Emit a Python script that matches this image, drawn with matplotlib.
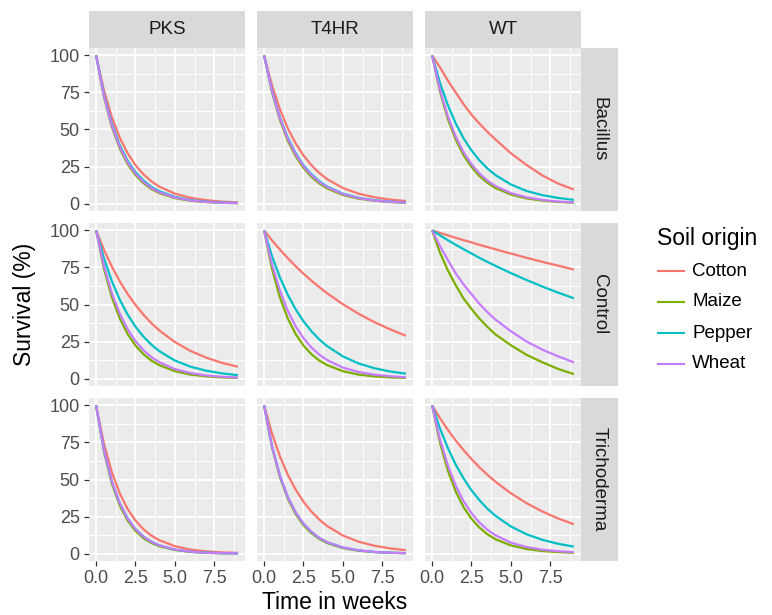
import matplotlib
matplotlib.use("Agg")
import matplotlib.pyplot as plt
from matplotlib.lines import Line2D

plt.rcParams['font.family'] = ['Liberation Sans', 'DejaVu Sans']

weeks = [0, 0.5, 1, 1.5, 2, 2.5, 3, 3.5, 4, 5, 6, 7, 8, 9]

soils = ["Cotton", "Maize", "Pepper", "Wheat"]
soil_colors = ["#F8766D", "#7CAE00", "#00BFC4", "#C77CFF"]
strains = ["PKS", "T4HR", "WT"]
treatments = ["Bacillus", "Control", "Trichoderma"]

# survival (%) per panel, rows in soil order: Cotton, Maize, Pepper, Wheat
bacillus_pks = [
    [100, 76.3, 58.3, 44.5, 34.0, 25.9, 19.8, 15.1, 11.5, 6.7, 3.9, 2.3, 1.3, 0.8],
    [100, 71.9, 51.7, 37.2, 26.7, 19.2, 13.8, 9.9, 7.1, 3.7, 1.9, 1.0, 0.5, 0.3],
    [100, 73.3, 53.8, 39.5, 28.9, 21.2, 15.6, 11.4, 8.4, 4.5, 2.4, 1.3, 0.7, 0.4],
    [100, 72.6, 52.7, 38.3, 27.8, 20.2, 14.7, 10.6, 7.7, 4.1, 2.2, 1.1, 0.6, 0.3],
]
bacillus_t4hr = [
    [100, 79.9, 63.8, 50.9, 40.7, 32.5, 25.9, 20.7, 16.5, 10.5, 6.7, 4.3, 2.7, 1.7],
    [100, 75.2, 56.6, 42.5, 32.0, 24.1, 18.1, 13.6, 10.2, 5.8, 3.3, 1.9, 1.0, 0.6],
    [100, 76.3, 58.3, 44.5, 34.0, 25.9, 19.8, 15.1, 11.5, 6.7, 3.9, 2.3, 1.3, 0.8],
    [100, 76.0, 57.7, 43.8, 33.3, 25.3, 19.2, 14.6, 11.1, 6.4, 3.7, 2.1, 1.2, 0.7],
]
bacillus_wt = [
    [100, 92.0, 83.0, 75.0, 67.0, 60.0, 54.0, 48.5, 43.5, 34.0, 26.0, 19.0, 13.5, 9.5],
    [100, 75.6, 57.1, 43.2, 32.6, 24.7, 18.6, 14.1, 10.6, 6.1, 3.5, 2.0, 1.1, 0.6],
    [100, 81.5, 66.4, 54.1, 44.0, 35.9, 29.2, 23.8, 19.4, 12.9, 8.5, 5.7, 3.8, 2.5],
    [100, 76.7, 58.9, 45.2, 34.6, 26.6, 20.4, 15.6, 12.0, 7.1, 4.2, 2.5, 1.4, 0.8],
]
control_pks = [
    [100, 86.9, 75.6, 65.7, 57.1, 49.7, 43.2, 37.5, 32.6, 24.7, 18.6, 14.1, 10.6, 8.0],
    [100, 74.1, 54.9, 40.7, 30.1, 22.3, 16.5, 12.2, 9.1, 5.0, 2.7, 1.5, 0.8, 0.5],
    [100, 81.1, 65.7, 53.3, 43.2, 35.0, 28.4, 23.0, 18.6, 12.2, 8.0, 5.3, 3.5, 2.3],
    [100, 76.0, 57.7, 43.8, 33.3, 25.3, 19.2, 14.6, 11.1, 6.4, 3.7, 2.1, 1.2, 0.7],
]
control_t4hr = [
    [100, 93.3, 87.1, 81.3, 75.9, 70.8, 66.1, 61.7, 57.6, 50.2, 43.7, 38.1, 33.2, 28.9],
    [100, 74.1, 54.9, 40.7, 30.1, 22.3, 16.5, 12.2, 9.1, 5.0, 2.7, 1.5, 0.8, 0.5],
    [100, 82.7, 68.4, 56.6, 46.8, 38.7, 32.0, 26.4, 21.9, 15.0, 10.2, 7.0, 4.8, 3.3],
    [100, 77.1, 59.5, 45.8, 35.3, 27.3, 21.0, 16.2, 12.5, 7.4, 4.4, 2.6, 1.6, 0.9],
]
control_wt = [
    [100, 98.3, 96.7, 95.0, 93.4, 91.9, 90.3, 88.8, 87.3, 84.4, 81.5, 78.8, 76.2, 73.6],
    [100, 85.0, 73.0, 63.0, 54.0, 47.0, 40.5, 35.0, 30.0, 22.5, 16.0, 11.0, 6.5, 3.0],
    [100, 96.7, 93.4, 90.3, 87.3, 84.4, 81.5, 78.8, 76.2, 71.2, 66.5, 62.1, 58.0, 54.2],
    [100, 89.5, 80.0, 71.0, 63.5, 57.0, 50.5, 45.0, 40.0, 32.0, 25.0, 19.5, 15.0, 11.0],
]
trichoderma_pks = [
    [100, 74.1, 54.9, 40.7, 30.1, 22.3, 16.5, 12.2, 9.1, 5.0, 2.7, 1.5, 0.8, 0.5],
    [100, 68.7, 47.2, 32.5, 22.3, 15.3, 10.5, 7.2, 5.0, 2.4, 1.1, 0.5, 0.2, 0.1],
    [100, 69.8, 48.7, 34.0, 23.7, 16.5, 11.5, 8.0, 5.6, 2.7, 1.3, 0.6, 0.3, 0.2],
    [100, 69.8, 48.7, 34.0, 23.7, 16.5, 11.5, 8.0, 5.6, 2.7, 1.3, 0.6, 0.3, 0.2],
]
trichoderma_t4hr = [
    [100, 81.1, 65.7, 53.3, 43.2, 35.0, 28.4, 23.0, 18.6, 12.2, 8.0, 5.3, 3.5, 2.3],
    [100, 71.9, 51.7, 37.2, 26.7, 19.2, 13.8, 9.9, 7.1, 3.7, 1.9, 1.0, 0.5, 0.3],
    [100, 72.6, 52.7, 38.3, 27.8, 20.2, 14.7, 10.6, 7.7, 4.1, 2.2, 1.1, 0.6, 0.3],
    [100, 72.6, 52.7, 38.3, 27.8, 20.2, 14.7, 10.6, 7.7, 4.1, 2.2, 1.1, 0.6, 0.3],
]
trichoderma_wt = [
    [100, 91.4, 83.5, 76.3, 69.8, 63.8, 58.3, 53.3, 48.7, 40.7, 34.0, 28.4, 23.7, 19.8],
    [100, 74.8, 56.0, 41.9, 31.3, 23.5, 17.6, 13.1, 9.8, 5.5, 3.1, 1.7, 1.0, 0.5],
    [100, 84.4, 71.2, 60.0, 50.7, 42.7, 36.1, 30.4, 25.7, 18.3, 13.0, 9.3, 6.6, 4.7],
    [100, 77.1, 59.5, 45.8, 35.3, 27.3, 21.0, 16.2, 12.5, 7.4, 4.4, 2.6, 1.6, 0.9],
]

panels = [
    [bacillus_pks, bacillus_t4hr, bacillus_wt],
    [control_pks, control_t4hr, control_wt],
    [trichoderma_pks, trichoderma_t4hr, trichoderma_wt],
]

W, H = 772, 615
fig = plt.figure(figsize=(W / 100, H / 100), dpi=100)

col_left = [89, 257, 425]
row_top = [48, 223, 398]
pw, ph = 156, 163
strip = 37

grey_bg = "#EBEBEB"
strip_bg = "#D9D9D9"


def fig_rect(x, y, w, h):
    return [x / W, 1 - (y + h) / H, w / W, h / H]


for r in range(3):
    for c in range(3):
        ax = fig.add_axes(fig_rect(col_left[c], row_top[r], pw, ph))
        ax.set_facecolor(grey_bg)
        for s in ax.spines.values():
            s.set_visible(False)
        ax.set_xlim(-0.45, 9.45)
        ax.set_ylim(-5, 105)
        ax.set_xticks([0, 2.5, 5, 7.5])
        ax.set_yticks([0, 25, 50, 75, 100])
        ax.set_xticks([1.25, 3.75, 6.25, 8.75], minor=True)
        ax.set_yticks([12.5, 37.5, 62.5, 87.5], minor=True)
        ax.grid(which="major", color="white", lw=1.3)
        ax.grid(which="minor", color="white", lw=0.65)
        ax.set_axisbelow(True)
        ax.tick_params(which="minor", length=0)
        ax.tick_params(which="major", length=3.6, width=0.9, color="#333333",
                       labelsize=13, labelcolor="#4D4D4D", pad=3)
        if c != 0:
            ax.tick_params(axis="y", length=0, labelleft=False)
        if r != 2:
            ax.tick_params(axis="x", length=0, labelbottom=False)
        ax.set_xticklabels(["0.0", "2.5", "5.0", "7.5"])
        for vals, col in zip(panels[r][c], soil_colors):
            ax.plot(weeks, vals, color=col, lw=1.6, solid_capstyle="butt")

# column strips
for c, name in enumerate(strains):
    sax = fig.add_axes(fig_rect(col_left[c], row_top[0] - strip, pw, strip))
    sax.set_facecolor(strip_bg)
    sax.set_xticks([])
    sax.set_yticks([])
    for s in sax.spines.values():
        s.set_visible(False)
    sax.text(0.5, 0.5, name, ha="center", va="center", fontsize=13.5,
             color="#1A1A1A", transform=sax.transAxes)

# row strips
for r, name in enumerate(treatments):
    sax = fig.add_axes(fig_rect(col_left[2] + pw, row_top[r], strip, ph))
    sax.set_facecolor(strip_bg)
    sax.set_xticks([])
    sax.set_yticks([])
    for s in sax.spines.values():
        s.set_visible(False)
    sax.text(0.5, 0.5, name, ha="center", va="center", fontsize=13.5,
             color="#1A1A1A", rotation=-90, transform=sax.transAxes)

# axis titles
fig.text(24 / W, 1 - 304 / H, "Survival (%)", rotation=90, ha="center",
         va="center", fontsize=16.5)
fig.text(335 / W, 1 - 609 / H, "Time in weeks", ha="center", va="baseline",
         fontsize=16.5)

# legend
fig.text(657 / W, 1 - 238 / H, "Soil origin", ha="left", va="center", fontsize=16.5)
for i, (name, col) in enumerate(zip(soils, soil_colors)):
    yy = 1 - (271 + i * 31) / H
    fig.add_artist(Line2D([658 / W, 684 / W], [yy, yy], color=col, lw=1.5,
                          transform=fig.transFigure))
    fig.text(692 / W, yy, name, ha="left", va="center", fontsize=13.5)

fig.savefig("out.png", dpi=100)
